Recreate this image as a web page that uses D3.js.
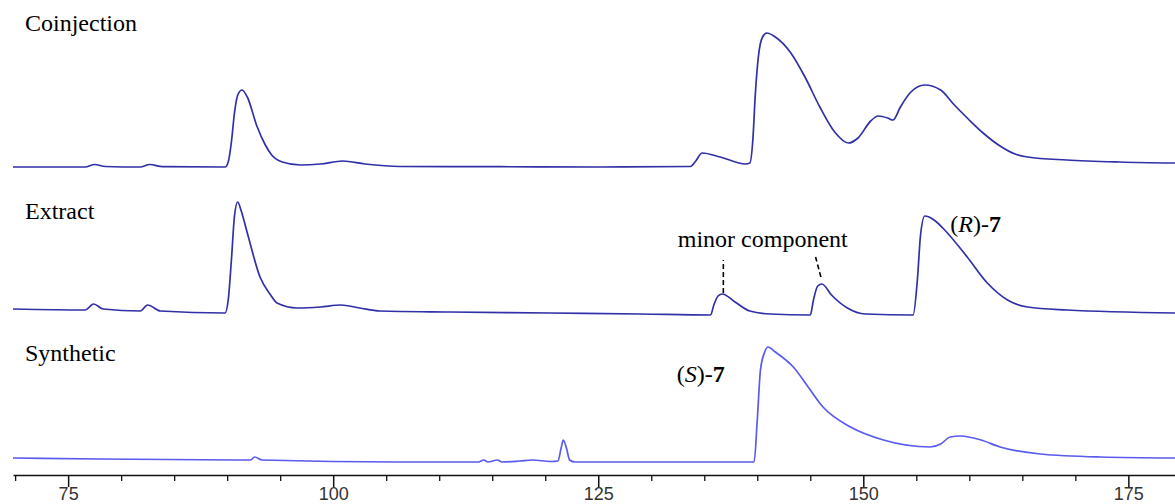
<!DOCTYPE html>
<html>
<head>
<meta charset="utf-8">
<script src="https://cdn.jsdelivr.net/npm/d3@7"></script>
<style>
  body { margin: 0; background: #fff; }
  svg { display: block; }
</style>
</head>
<body>
<script>
// retention time (min) / detector signal
var coinjectionTime = [69.8,76.6,77.5,78.5,81.8,82.7,83.9,89.8,90.1,90.4,90.7,91.0,91.4,91.9,92.8,93.6,94.2,95.2,96.9,98.8,100.9,103.0,106.3,115.8,125.2,133.7,134.2,134.8,136.5,138.9,139.3,139.6,139.8,140.1,140.5,140.9,141.7,143.1,144.5,145.9,147.3,148.6,149.5,150.7,151.4,152.3,152.8,153.5,154.4,155.8,157.3,158.5,159.9,161.3,162.9,164.3,165.5,169.2,174.2,179.4];
var coinjectionSignal = [0,0,2.5,0.5,0,2.5,0.3,0,5,25,55,72,77,70,41,22,12,5,2,3,6,3,0.5,0.3,0,0.5,6,14,10,3,4,30,70,110,130,134,130,115,90,60,35,24,29,46,51,49,47,60,74,82,77,63,48,34,21,13,10,7,5,4];

var extractTime = [69.8,76.6,77.4,78.3,81.8,82.5,83.7,89.8,90.1,90.4,90.7,91.0,91.3,91.9,93.1,94.1,94.7,96.6,98.8,100.7,102.5,104.4,111.0,120.5,129.0,135.6,135.9,136.3,136.7,137.9,139.3,141.2,145.0,145.3,145.7,146.1,147.0,148.5,150.2,154.7,155.1,155.4,155.8,156.2,156.8,157.5,159.8,161.7,163.6,165.5,169.2,179.4];
var extractSignal = [7,6,12,7,5,11,5,3,16,56,101,114,106,83,39,21,13,8,9,11,8,5,4,3,2,1,11,20,22,14,5,2,1,16,30,32,21,8,2,1,36,81,100,99,95,88,59,33,16,9,6,3];

var syntheticTime = [69.8,78.0,92.2,92.6,93.3,106.3,113.7,114.2,114.6,115.5,115.9,117.6,118.8,120.5,121.2,121.5,121.7,122.0,122.3,122.8,129.9,139.7,140.0,140.3,140.7,141.0,141.7,143.4,144.8,146.2,148.8,151.9,156.3,157.3,158.2,159.2,161.1,162.9,166.7,172.4,179.4];
var syntheticSignal = [4,3,2,5,2,0,0,2,0,2,0,1,2,0.5,1,14,22,14,2,0,0,0,42,92,110,115,110,95,75,55,35,22,15,18,25,26,22,15,8,5,4];

var majorTicks = [75,100,125,150,175];
var minorTicks = [70,80,85,90,95,105,110,115,120,130,135,140,145,155,160,165,170];

var width = 1175, height = 504;

var svg = d3.select("body").append("svg")
    .attr("width", width)
    .attr("height", height);

var x = d3.scaleLinear().domain([69.8, 179.4]).range([13, 1175]);
var y = d3.scaleLinear().domain([0, 140]).range([0, -140]);

var serif = "'Liberation Serif', 'Times New Roman', serif";

//********************************** Traces **********************************
var panels = [
  {name: "Coinjection", base: 167, t: coinjectionTime, s: coinjectionSignal, color: "#3030a8", labelY: 31},
  {name: "Extract",     base: 316, t: extractTime,     s: extractSignal,     color: "#3030a8", labelY: 219},
  {name: "Synthetic",   base: 462, t: syntheticTime,   s: syntheticSignal,   color: "#5a5af0", labelY: 361}
];

var line = d3.line()
    .x(function(d){ return x(d[0]); })
    .y(function(d){ return y(d[1]); })
    .curve(d3.curveMonotoneX);

var g = svg.selectAll("g.panel")
    .data(panels)
    .enter().append("g")
      .attr("class", "panel")
      .attr("transform", function(d){ return "translate(0," + d.base + ")"; });

g.append("path")
    .attr("fill", "none")
    .attr("stroke", function(d){ return d.color; })
    .attr("stroke-width", 1.7)
    .attr("stroke-linejoin", "round")
    .attr("d", function(d){ return line(d.t.map(function(v,i){ return [v, d.s[i]]; })); });

// panel names
svg.selectAll("text.panelName")
    .data(panels)
    .enter().append("text")
      .attr("class", "panelName")
      .attr("x", 25)
      .attr("y", function(d){ return d.labelY; })
      .style("font-family", serif)
      .style("font-size", "24px")
      .attr("fill", "#000")
      .text(function(d){ return d.name; });

//******************************** Annotations *******************************
var ext = svg.append("g").attr("transform", "translate(0," + panels[1].base + ")");

ext.append("text")
    .attr("x", x(132.5))
    .attr("y", y(69))
    .style("font-family", serif)
    .style("font-size", "24px")
    .text("minor component");

var dashes = [[136.8, 23, 136.8, 56], [146.0, 39, 145.5, 59]];
ext.selectAll("line.dash")
    .data(dashes)
    .enter().append("line")
      .attr("x1", function(d){ return x(d[0]); })
      .attr("y1", function(d){ return y(d[1]); })
      .attr("x2", function(d){ return x(d[2]); })
      .attr("y2", function(d){ return y(d[3]); })
      .attr("stroke", "#000")
      .attr("stroke-width", 1.6)
      .attr("stroke-dasharray", "5,3");

function enantiomer(gr, t, s, letter) {
  var tx = gr.append("text")
      .attr("x", x(t))
      .attr("y", y(s))
      .style("font-family", serif)
      .style("font-size", "24px");
  tx.append("tspan").text("(");
  tx.append("tspan").style("font-style", "italic").text(letter);
  tx.append("tspan").text(")-");
  tx.append("tspan").style("font-weight", "bold").text("7");
}
enantiomer(ext, 158.2, 84, "R");
var syn = svg.append("g").attr("transform", "translate(0," + panels[2].base + ")");
enantiomer(syn, 132.4, 80, "S");

//*********************************** Axis ***********************************
var axisY = 475;
var axis = svg.append("g")
    .attr("transform", "translate(0," + axisY + ")")
    .call(d3.axisBottom(x).tickValues(majorTicks).tickSize(12).tickSizeOuter(0).tickPadding(0));

axis.select(".domain").attr("stroke", "#111").attr("stroke-width", 1.5);
axis.selectAll(".tick line").attr("stroke", "#111").attr("stroke-width", 1.5);
axis.selectAll(".tick text")
    .style("font-family", "'Liberation Sans', Arial, sans-serif")
    .style("font-size", "18px")
    .attr("fill", "#333");

svg.append("g")
    .attr("transform", "translate(0," + axisY + ")")
    .call(d3.axisBottom(x).tickValues(minorTicks).tickSize(6).tickSizeOuter(0).tickFormat(""))
    .call(function(a){ a.select(".domain").remove(); })
    .selectAll(".tick line").attr("stroke", "#111").attr("stroke-width", 1.3);
</script>
</body>
</html>
